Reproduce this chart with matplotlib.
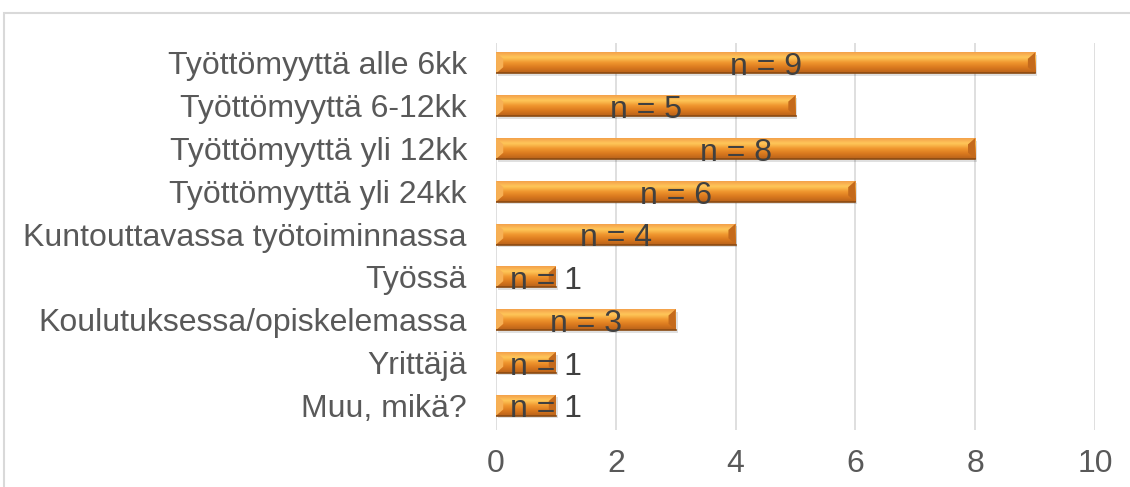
import numpy as np
import matplotlib.pyplot as plt
from matplotlib.patches import Rectangle, Polygon
from matplotlib.colors import LinearSegmentedColormap

categories = ["Työttömyyttä alle 6kk", "Työttömyyttä 6-12kk", "Työttömyyttä yli 12kk",
              "Työttömyyttä yli 24kk", "Kuntouttavassa työtoiminnassa", "Työssä",
              "Koulutuksessa/opiskelemassa", "Yrittäjä", "Muu, mikä?"]
values = [9, 5, 8, 6, 4, 1, 3, 1, 1]
xticks = [0, 2, 4, 6, 8, 10]

plt.rcParams['font.family'] = ['Liberation Sans', 'DejaVu Sans']

fig = plt.figure(figsize=(11.3, 4.87), dpi=100)
ax = fig.add_axes([0.439, 0.117, 0.530, 0.795])

# chart frame
fig.patches.append(Rectangle((4 / 1130, -0.1), 1.2, 1 - 13 / 487 + 0.1, transform=fig.transFigure,
                             fill=False, edgecolor="#D9D9D9", linewidth=1.5, zorder=0))

grad = LinearSegmentedColormap.from_list("bar", ["#F4A04A", "#FFC85A", "#F0962E", "#D9781E", "#B8621A"])
gimg = np.linspace(0, 1, 64).reshape(-1, 1)

ypos = np.arange(len(categories))
h = 0.49
bars = ax.barh(ypos, values, height=h, color="#E8892A", edgecolor="none", zorder=3)

for b, v in zip(bars, values):
    x0, y0 = b.get_x(), b.get_y()
    w, bh = b.get_width(), b.get_height()
    # soft shadow
    ax.add_patch(Rectangle((x0 + 0.03, y0 + 0.06), w, bh, facecolor="#000000", alpha=0.12,
                           edgecolor="none", zorder=2))
    im = ax.imshow(gimg, cmap=grad, aspect="auto", extent=(x0, x0 + w, y0 + bh, y0),
                   zorder=4, interpolation="bicubic")
    im.set_clip_path(b)
    # bevel ends
    d = 0.12
    ax.add_patch(Polygon([[x0, y0], [x0 + d, y0 + bh * 0.3], [x0 + d, y0 + bh * 0.7], [x0, y0 + bh]],
                         closed=True, facecolor="#F7B055", edgecolor="none", zorder=5))
    ax.add_patch(Polygon([[x0 + w, y0], [x0 + w - d, y0 + bh * 0.3], [x0 + w - d, y0 + bh * 0.7],
                          [x0 + w, y0 + bh]], closed=True, facecolor="#C46A1C", edgecolor="none", zorder=5))
    ax.plot([x0, x0 + w], [y0 + bh, y0 + bh], color="#8A4A12", lw=1.2, zorder=5)
    ax.text(x0 + w / 2 + (0.33 if v == 1 else 0), b.get_y() + bh / 2 + 0.1, f"n = {v}",
            ha="center", va="center", fontsize=23, color="#404040", zorder=6)

ax.set_yticks(ypos)
ax.set_yticklabels(categories, fontsize=23, color="#595959")
ax.set_ylim(8.58, -0.47)
ax.set_xlim(0, 10)
ax.set_xticks(xticks)
ax.set_xticklabels([str(t) for t in xticks], fontsize=23, color="#595959")
ax.tick_params(axis="both", length=0)
ax.tick_params(axis="y", pad=21)
ax.tick_params(axis="x", pad=14)
ax.grid(axis="x", color="#D9D9D9", linewidth=1.2, zorder=0)
ax.set_axisbelow(True)
for s in ax.spines.values():
    s.set_visible(False)

fig.savefig("out.png", dpi=100)
